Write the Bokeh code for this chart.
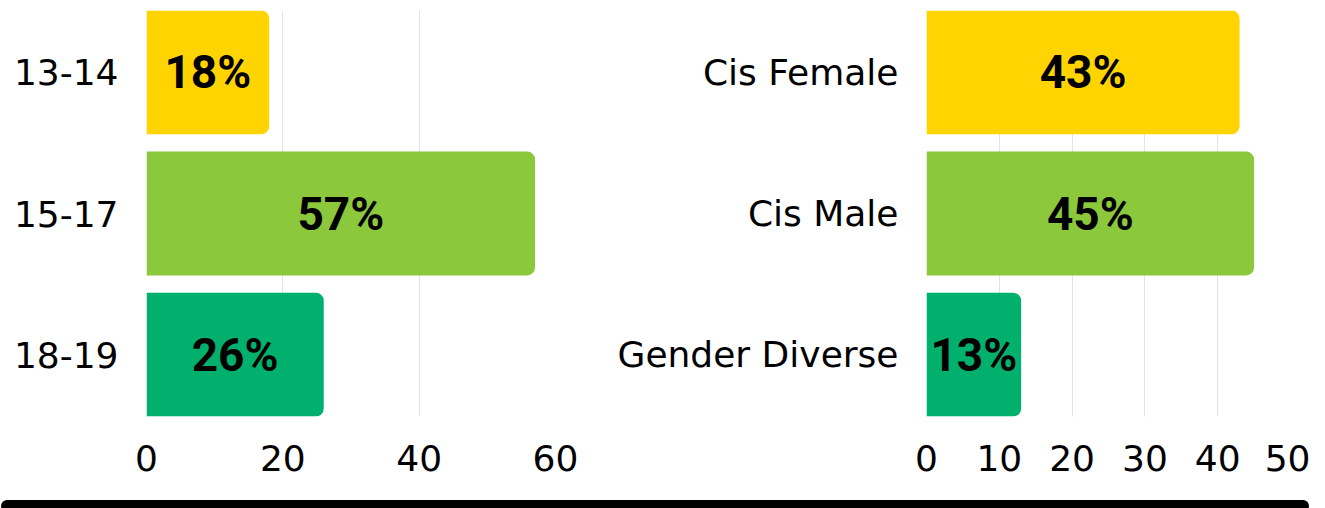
from bokeh.plotting import figure
from bokeh.layouts import row, column
from bokeh.models import Range1d, FixedTicker, ColumnDataSource, Div
from bokeh.core.properties import value
from bokeh.embed import file_html
from bokeh.resources import INLINE

# ---- data ----
age_groups = ["13-14", "15-17", "18-19"]
age_pct = [18, 57, 26]
gender_groups = ["Cis Female", "Cis Male", "Gender Diverse"]
gender_pct = [43, 45, 13]
bar_colors = ["#FFD400", "#8CC83C", "#00B06C"]
age_ticks = [0, 20, 40, 60]
gender_ticks = [0, 10, 20, 30, 40, 50]

LABEL_FONT = "DejaVu Sans"
BAR_FONT = "Roboto"


def make_chart(cats, vals, ticks, frame_width, border_left, border_right):
    n = len(cats)
    ypos = [n - 1 - i for i in range(n)]
    bar_h = 0.878
    pad = (1 - bar_h) / 2
    p = figure(
        frame_width=frame_width, frame_height=406,
        x_range=Range1d(0, ticks[-1]),
        y_range=Range1d(-0.5 + pad, n - 0.5 - pad),
        output_backend="svg", toolbar_location=None,
        min_border_left=border_left, min_border_right=border_right,
        min_border_top=10, min_border_bottom=79,
    )
    src = ColumnDataSource(dict(
        y=ypos, v=vals, c=bar_colors[:n],
        mid=[v / 2 for v in vals],
        lab=[f"{v}%" for v in vals],
    ))
    p.hbar(y="y", left=0, right="v", height=bar_h, fill_color="c",
           line_color=None, border_radius=(0, 8, 8, 0), source=src)
    p.text(x="mid", y="y", text="lab", source=src,
           text_font=value(BAR_FONT), text_font_style="bold",
           text_font_size="46px", text_align="center",
           text_baseline="middle", text_color="black")

    p.xaxis.ticker = FixedTicker(ticks=ticks)
    p.xgrid.ticker = FixedTicker(ticks=ticks)
    p.yaxis.ticker = FixedTicker(ticks=ypos)
    p.yaxis.major_label_overrides = {y: c for y, c in zip(ypos, cats)}
    p.ygrid.visible = False
    p.xgrid.grid_line_color = "#e3e3e3"
    p.xgrid.grid_line_width = 1

    for ax in (p.xaxis, p.yaxis):
        ax.axis_line_color = None
        ax.major_tick_line_color = None
        ax.minor_tick_line_color = None
        ax.major_label_text_font = LABEL_FONT
        ax.major_label_text_font_size = "36px"
        ax.major_label_text_color = "black"
    p.xaxis.major_label_standoff = 22
    p.yaxis.major_label_standoff = 22
    p.outline_line_color = None
    p.background_fill_color = "white"
    p.border_fill_color = "white"
    return p


p1 = make_chart(age_groups, age_pct, age_ticks, 409, 146, 44)
p2 = make_chart(gender_groups, gender_pct, gender_ticks, 364, 327, 20)

bar = Div(text="", width=1308, height=12,
          styles={"background-color": "black", "border-radius": "6px",
                  "position": "relative", "left": "-4px"})

layout = column(row(p1, p2), bar)

with open("out.html", "w") as f:
    f.write(file_html(layout, INLINE))
